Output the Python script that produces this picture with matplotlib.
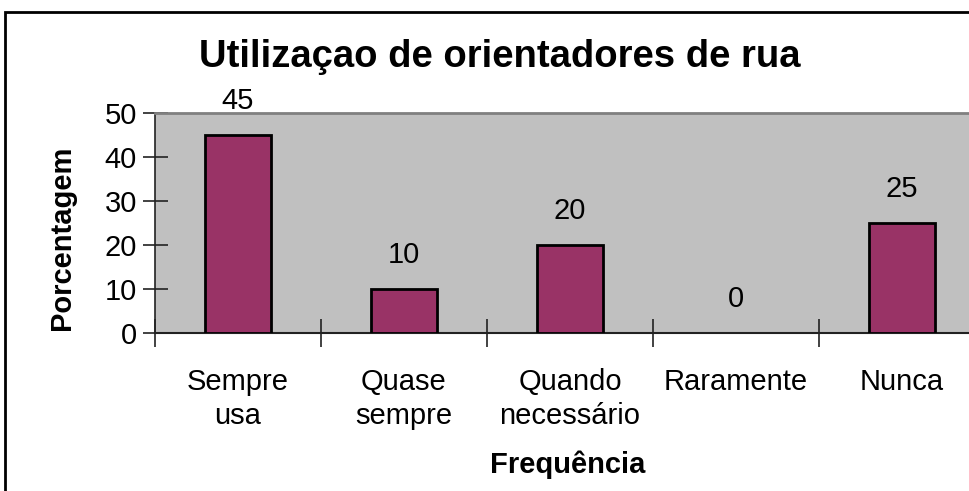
import matplotlib
matplotlib.use("Agg")
import matplotlib.pyplot as plt
from matplotlib.patches import Rectangle
from matplotlib import font_manager

categories = ["Sempre\nusa", "Quase\nsempre", "Quando\nnecessário", "Raramente", "Nunca"]
values = [45, 10, 20, 0, 25]
yticks = [0, 10, 20, 30, 40, 50]

names = {f.name for f in font_manager.fontManager.ttflist}
fam = ["Liberation Sans Narrow", "Liberation Sans", "DejaVu Sans"]
fam = [f for f in fam if f in names] or ["DejaVu Sans"]
plt.rcParams["font.family"] = fam

W, H = 969, 491
fig = plt.figure(figsize=(W / 100, H / 100), dpi=100)
fig.patch.set_facecolor("white")

# outer chart border
fig.patches.append(Rectangle((5 / W, -0.1), 1.2, (H - 12) / H + 0.1, transform=fig.transFigure,
                             fill=False, edgecolor="black", linewidth=2))

left, right, top, bottom = 155, 985, 113, 333
ax = fig.add_axes([left / W, (H - bottom) / H, (right - left) / W, (bottom - top) / H])
ax.set_facecolor("#C0C0C0")

x = list(range(len(categories)))
lws = [2 if v > 0 else 0 for v in values]
ax.bar(x, values, width=0.40, color="#993366", edgecolor="black", linewidth=lws, zorder=3)
for xi, v in zip(x, values):
    ax.annotate(str(v), (xi, v), xytext=(0, 24.5), textcoords="offset points",
                ha="center", va="center", fontsize=21, color="black")

ax.set_xlim(-0.5, len(categories) - 0.5)
ax.set_ylim(0, 50)
ax.set_yticks(yticks)
ax.set_xticks([i - 0.5 for i in range(len(categories) + 1)], minor=False)
ax.set_xticklabels([""] * (len(categories) + 1))
ax.set_xticks(x, minor=True)
ax.set_xticklabels(categories, minor=True, fontsize=21, linespacing=1.3)
ax.tick_params(axis="x", which="minor", length=0, pad=25)
ax.tick_params(axis="x", which="major", direction="inout", length=20, width=1.2, color="#222222")
ax.tick_params(axis="y", direction="inout", length=18, width=1.2, labelsize=21, pad=4, color="#222222")

ax.spines["right"].set_visible(False)
ax.spines["top"].set_color("#808080")
ax.spines["top"].set_linewidth(2)
ax.spines["left"].set_color("#222222")
ax.spines["left"].set_linewidth(1.2)
ax.spines["bottom"].set_color("#222222")
ax.spines["bottom"].set_linewidth(1.5)

fig.text(500 / W, 1 - 57 / H, "Utilizaçao de orientadores de rua", ha="center", va="center",
         fontsize=27.5, fontweight="bold")
fig.text(62 / W, 1 - 238 / H, "Porcentagem", ha="center", va="center", rotation=90,
         fontsize=21, fontweight="bold")
fig.text(568 / W, 1 - 465 / H, "Frequência", ha="center", va="center",
         fontsize=21, fontweight="bold")

fig.savefig("out.png", dpi=100)
